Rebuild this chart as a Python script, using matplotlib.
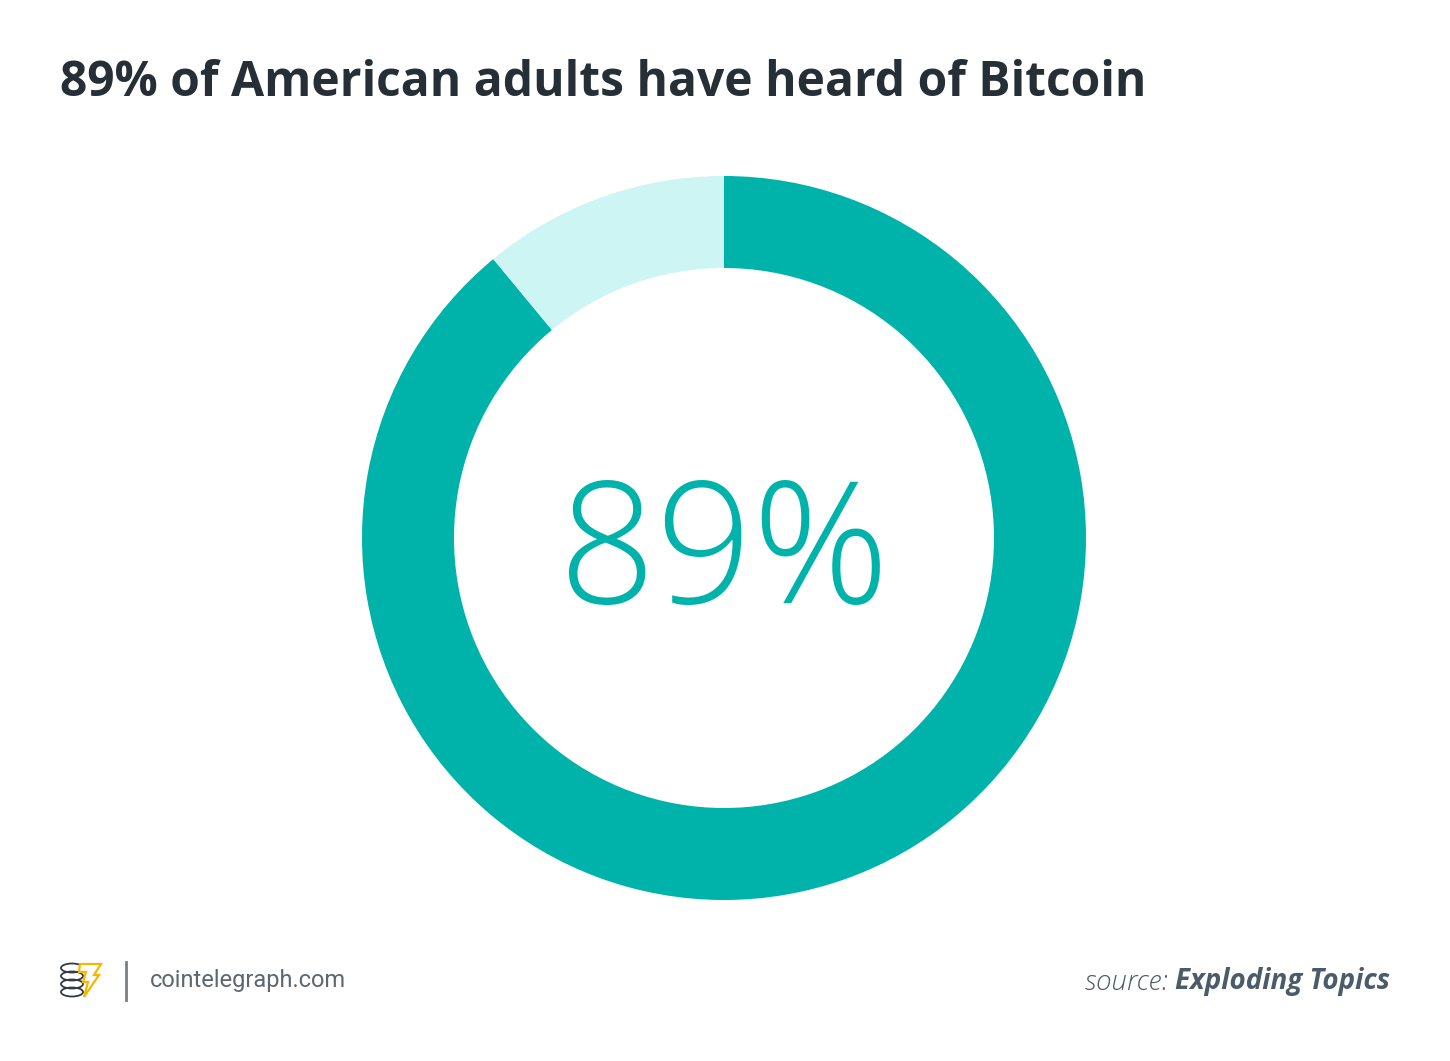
import matplotlib
matplotlib.use("Agg")
import matplotlib.pyplot as plt
from matplotlib.patches import Ellipse, Polygon
from matplotlib.lines import Line2D

labels = ["Have heard of Bitcoin", "Have not"]
values = [89, 11]
colors = ["#00B3AA", "#CCF5F3"]
center_label = "89%"
title = "89% of American adults have heard of Bitcoin"
source_prefix = "source: "
source_name = "Exploding Topics"

W, H = 1450, 1061
fig = plt.figure(figsize=(W / 100, H / 100), dpi=100)
fig.patch.set_facecolor("white")

cx, cy, R = 724, 538, 362
ax = fig.add_axes([(cx - R) / W, (H - cy - R) / H, 2 * R / W, 2 * R / H])
ax.pie(values, colors=colors, startangle=90, counterclock=False, radius=1.0,
       wedgeprops=dict(width=92 / R, edgecolor="none"))
ax.set_xlim(-1, 1)
ax.set_ylim(-1, 1)
ax.set_aspect("equal")
ax.axis("off")
ax.text(0, -0.058, center_label, ha="center", va="center", fontsize=122,
        color="#00B3AA", family="Open Sans", fontweight="light")

fig.text(60 / W, 1 - 83 / H, title, ha="left", va="center", fontsize=34.6,
         fontweight="bold", family="Open Sans", color="#262E36")

# footer
fig.text(150 / W, 1 - 980 / H, "cointelegraph.com", ha="left", va="center",
         fontsize=17, family="Roboto", color="#5C6771")
fig.add_artist(Line2D([126 / W, 126 / W], [1 - 962 / H, 1 - 1000 / H],
                      transform=fig.transFigure, color="#7A7F85", lw=2))

# simple logo: coin stack + bolt
for i, yy in enumerate([968, 976, 984, 992]):
    fig.add_artist(Ellipse((72 / W, 1 - yy / H), 22 / W, 9 / H,
                           transform=fig.transFigure, fill=False,
                           edgecolor="#333B44", lw=1.3, zorder=3))
bolt = [(80, 964), (101, 964), (94, 975), (99, 975), (84, 997), (88, 982),
        (83, 982), (86, 972), (79, 972)]
fig.add_artist(Polygon([(x / W, 1 - y / H) for x, y in bolt], closed=True,
                       transform=fig.transFigure, facecolor="white",
                       edgecolor="#F5B800", lw=1.6, zorder=4))

# source
t2 = fig.text(1390 / W, 1 - 982 / H, source_name, ha="right", va="center",
              fontsize=20, family="Open Sans", fontstyle="italic",
              fontweight="bold", color="#4A5B69")
fig.canvas.draw()
bb = t2.get_window_extent()
fig.text(bb.x0 / W, 1 - 982 / H, source_prefix, ha="right", va="center",
         fontsize=20, family="Open Sans", fontstyle="italic",
         fontweight="light", color="#4A5B69")

fig.savefig("out.png", dpi=100, facecolor="white")
